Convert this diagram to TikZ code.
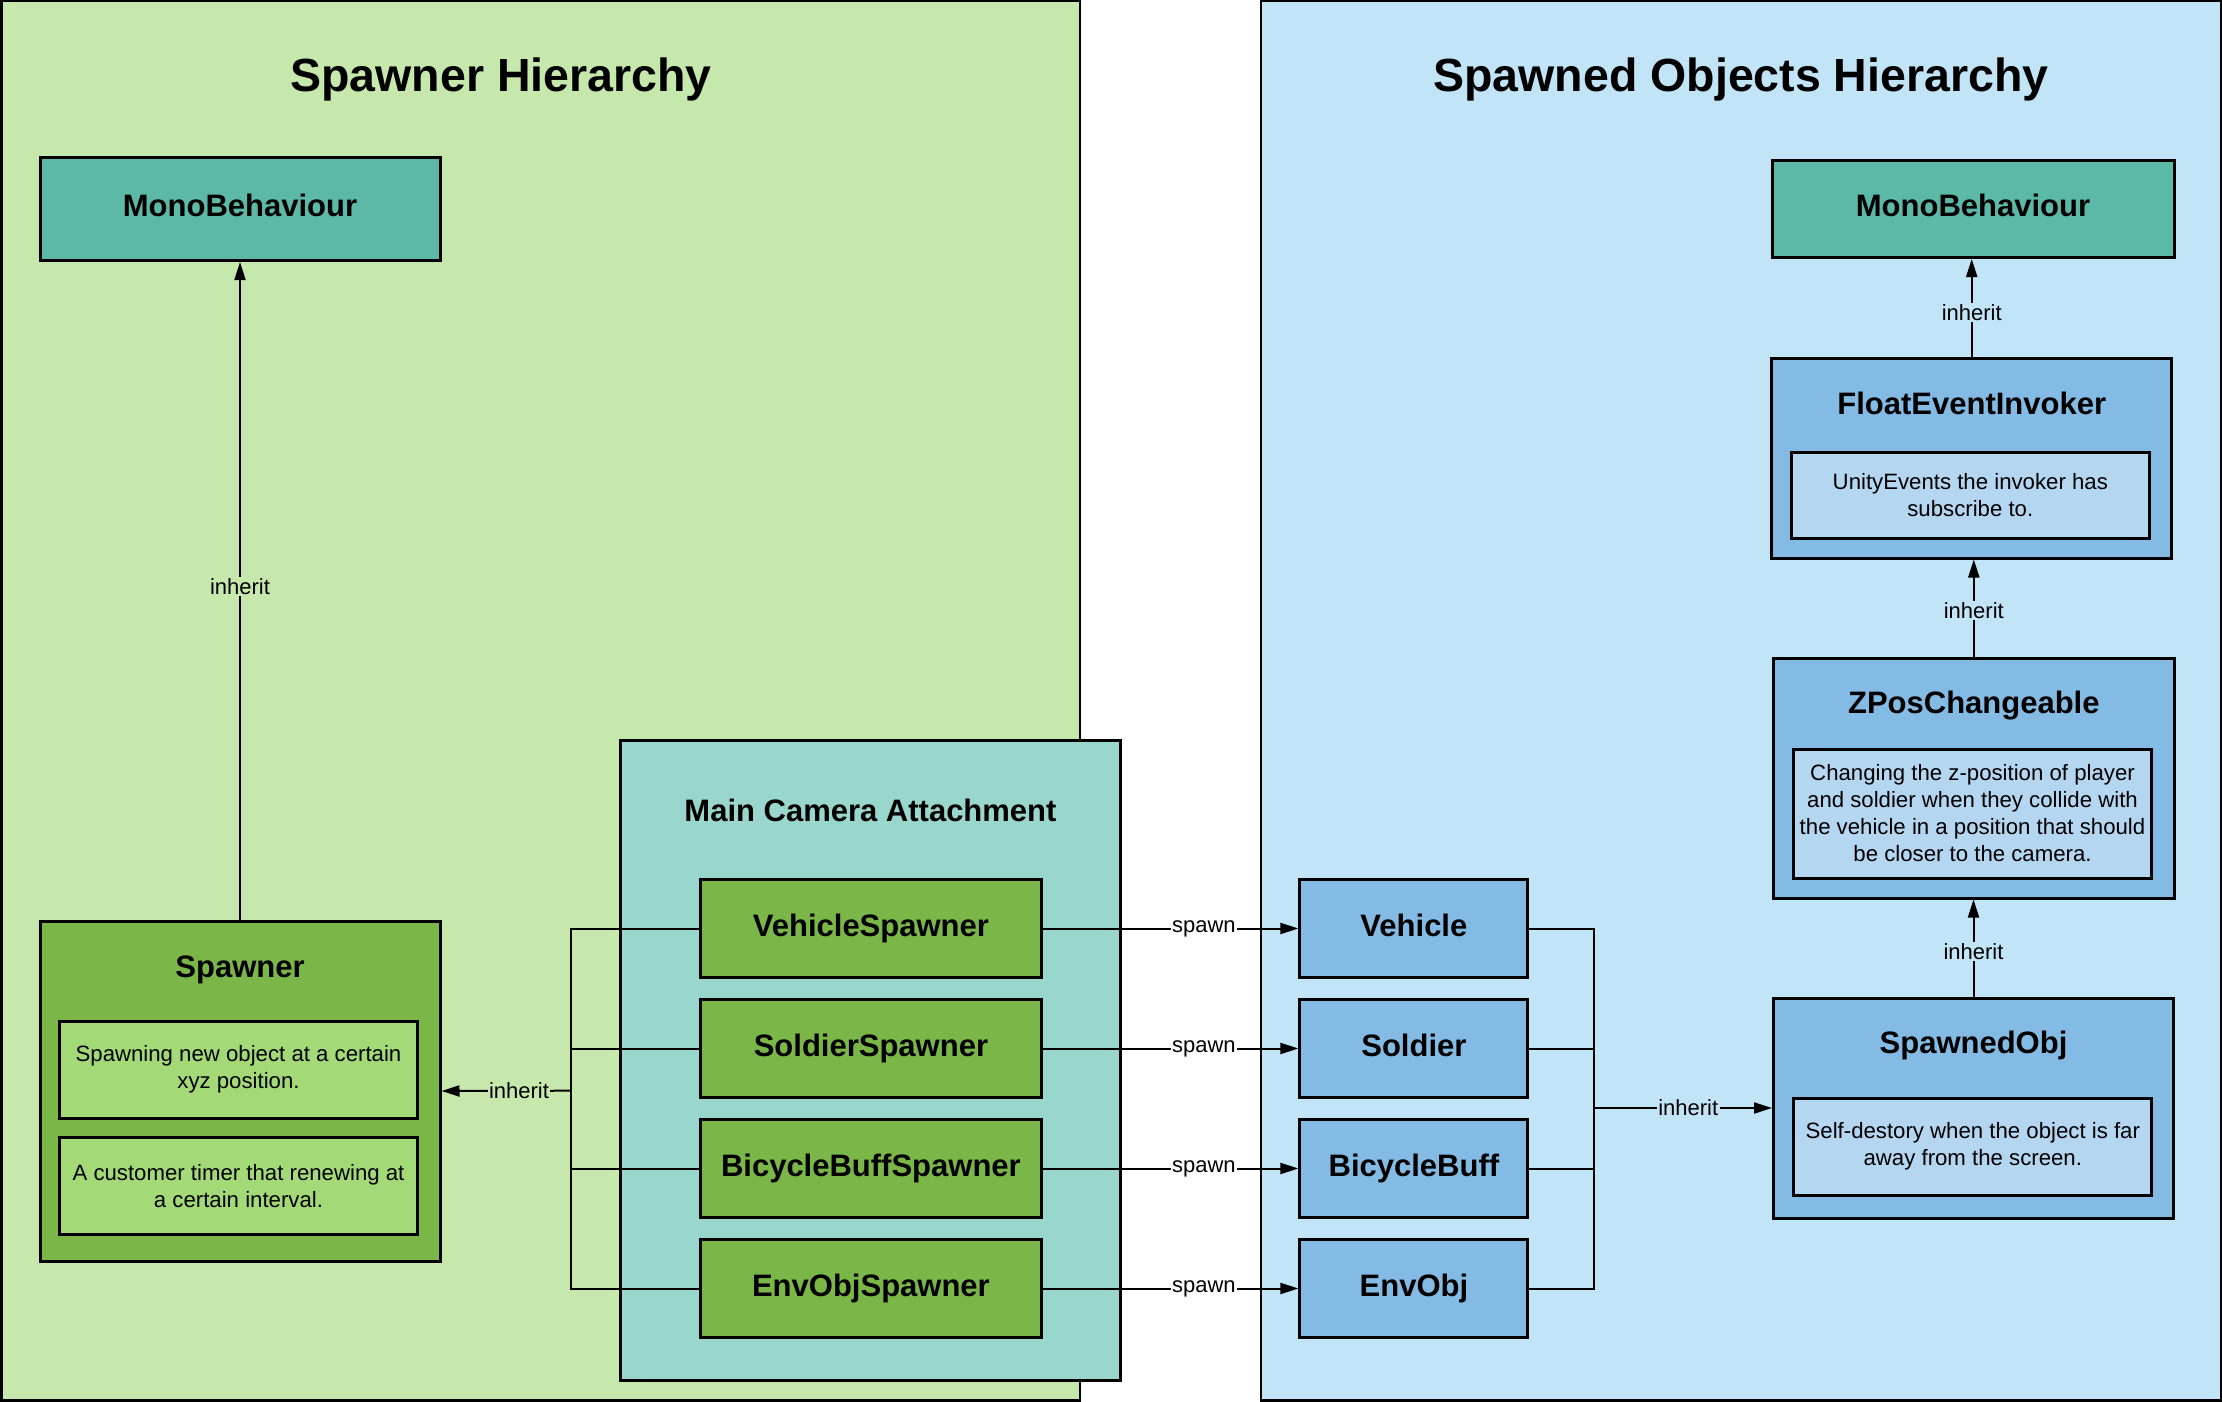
\documentclass[tikz,border=0pt]{standalone}
\usepackage{fontspec}
\setmainfont{Liberation Sans}
\usetikzlibrary{arrows.meta}
\definecolor{panelG}{RGB}{199,232,172}
\definecolor{panelB}{RGB}{193,228,247}
\definecolor{cMono}{RGB}{92,185,167}
\definecolor{cCam}{RGB}{153,214,203}
\definecolor{cGreen}{RGB}{122,182,72}
\definecolor{cGreenL}{RGB}{163,217,119}
\definecolor{cBlue}{RGB}{131,187,228}
\definecolor{cBlueL}{RGB}{180,214,240}
\begin{document}
\begin{tikzpicture}[x=1pt,y=-1pt,
  box/.style={draw=black, line width=3pt, rectangle, inner sep=0pt},
  head/.style={font=\fontsize{31}{37}\selectfont\bfseries},
  onel/.style={head, text height=22pt, text depth=7pt},
  body/.style={font=\fontsize{22.2}{27}\selectfont, align=center},
  conn/.style={line width=2pt},
  arr/.style={conn, -{Triangle[length=18pt,width=11pt]}},
  lab/.style={font=\fontsize{22}{26}\selectfont, inner sep=1.5pt},
  gbox/.style={box, fill=cGreen, minimum width=341pt, minimum height=97.5pt, onel},
  bbox/.style={box, fill=cBlue, minimum width=228pt, minimum height=97.5pt, onel},
  ginner/.style={box, fill=cGreenL, minimum width=358pt, minimum height=97pt, body},
  binner/.style={box, fill=cBlueL, minimum width=358pt, body},
]
\useasboundingbox (0,0) rectangle (2222,1402);
\fill[white] (0,0) rectangle (2222,1402);
% panels
\draw[fill=panelG, line width=2.5pt] (1.25,1.25) rectangle (1080,1400.5);
\draw[fill=panelB, line width=2.5pt] (1261,1.25) rectangle (2220.75,1400.5);
\node[font=\fontsize{46.5}{55}\selectfont\bfseries, anchor=base] (t1) at (501,92) {Spawner Hierarchy};
\node[font=\fontsize{46.5}{55}\selectfont\bfseries, anchor=base] (t2) at (1741,92) {Spawned Objects Hierarchy};
% left side
\node[box, fill=cMono, minimum width=400pt, minimum height=103pt, onel] (monoL) at (240,209) {MonoBehaviour};
\node[box, fill=cGreen, minimum width=400pt, minimum height=340pt] (spawner) at (240,1091) {};
\node[head, anchor=base] (spawnerT) at (240,977) {Spawner};
\node[ginner] (sp1) at (238.5,1069.5) {Spawning new object at a certain\\xyz position.};
\node[ginner] (sp2) at (238.5,1186.4) {A customer timer that renewing at\\a certain interval.};
% main camera attachment
\node[box, fill=cCam, minimum width=500pt, minimum height=640pt] (mca) at (870.5,1060.4) {};
\node[head, anchor=base] (mcaT) at (870.5,821) {Main Camera Attachment};
\node[gbox] (vs) at (870.9,928.5) {VehicleSpawner};
\node[gbox] (ss) at (870.9,1048.5) {SoldierSpawner};
\node[gbox] (bs) at (870.9,1168.5) {BicycleBuffSpawner};
\node[gbox] (es) at (870.9,1288.5) {EnvObjSpawner};
% right side entities
\node[bbox] (vh) at (1413.9,928.5) {Vehicle};
\node[bbox] (so) at (1413.9,1048.5) {Soldier};
\node[bbox] (bb) at (1413.9,1168.5) {BicycleBuff};
\node[bbox] (eo) at (1413.9,1288.5) {EnvObj};
% right hierarchy
\node[box, fill=cMono, minimum width=402pt, minimum height=97pt, onel] (monoR) at (1973,209) {MonoBehaviour};
\node[box, fill=cBlue, minimum width=400pt, minimum height=200pt] (fei) at (1971.7,458) {};
\node[head, anchor=base] (feiT) at (1971.7,414) {FloatEventInvoker};
\node[binner, minimum height=85.4pt] (feiI) at (1970.3,495.5) {UnityEvents the invoker has\\subscribe to.};
\node[box, fill=cBlue, minimum width=401pt, minimum height=240pt] (zpos) at (1973.8,778) {};
\node[head, anchor=base] (zposT) at (1973.8,713.8) {ZPosChangeable};
\node[binner, minimum height=129pt] (zposI) at (1972.5,813.5) {Changing the z-position of player\\and soldier when they collide with\\the vehicle in a position that should\\be closer to the camera.};
\node[box, fill=cBlue, minimum width=400pt, minimum height=220pt] (sobj) at (1973.5,1108) {};
\node[head, anchor=base] (sobjT) at (1973.5,1053.5) {SpawnedObj};
\node[binner, minimum height=97pt] (sobjI) at (1972.8,1146.5) {Self-destory when the object is far\\away from the screen.};
% connectors left
\coordinate (jl) at (570.6,1090.7);
\foreach \n in {vs,ss,bs,es} \draw[conn] (\n.west) -| (jl);
\draw[arr] (jl) -- node[lab, fill=panelG, pos=0.4] {inherit} (spawner.east);
\draw[arr] (spawner.north) -- node[lab, fill=panelG, pos=0.506] {inherit} (monoL.south);
% spawn
\draw[arr] (vs.east) -- node[lab, fill=white, pos=0.63] {spawn} (vh.west);
\draw[arr] (ss.east) -- node[lab, fill=white, pos=0.63] {spawn} (so.west);
\draw[arr] (bs.east) -- node[lab, fill=white, pos=0.63] {spawn} (bb.west);
\draw[arr] (es.east) -- node[lab, fill=white, pos=0.63] {spawn} (eo.west);
% connectors right
\coordinate (jr) at (1593.7,1108);
\foreach \n in {vh,so,bb,eo} \draw[conn] (\n.east) -| (jr);
\draw[arr] (jr) -- node[lab, fill=panelB, pos=0.53] {inherit} (sobj.west);
\draw[arr] (sobj.north) -- node[lab, fill=panelB, pos=0.46] {inherit} (sobj.north |- zpos.south);
\draw[arr] (zpos.north) -- node[lab, fill=panelB, pos=0.47] {inherit} (zpos.north |- fei.south);
\draw[arr] (fei.north) -- node[lab, fill=panelB, pos=0.45] {inherit} (fei.north |- monoR.south);
\end{tikzpicture}
\end{document}
